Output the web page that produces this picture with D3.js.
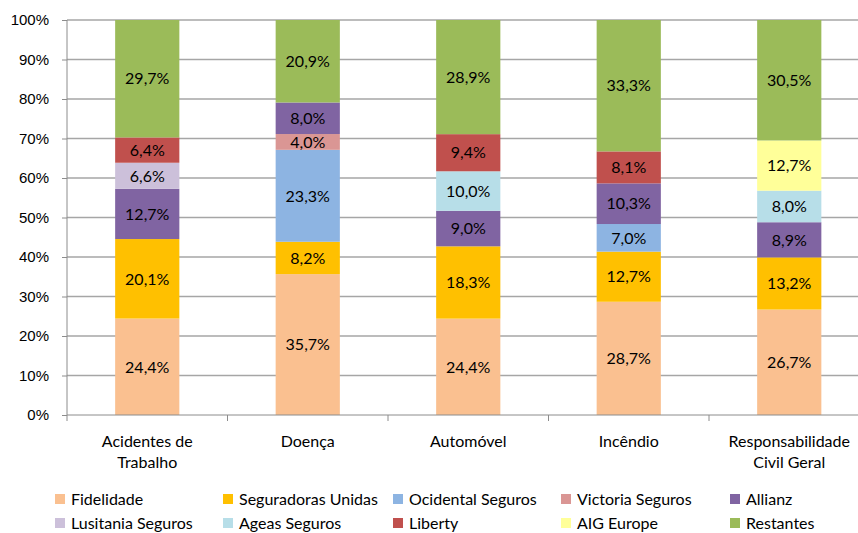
<!DOCTYPE html>
<html lang="pt">
<head>
<meta charset="utf-8">
<title>Quotas de mercado por ramo</title>
<style>
  body { margin: 0; background: #fff; }
  svg { font-family: Lato, "Open Sans", sans-serif; }
  .grid line { stroke: #a6a6a6; stroke-width: 1.3; }
  .axis path, .axis line { stroke: #8c8c8c; }
  .axis text { font-size: 15px; fill: #000; }
  .axis .cat { font-size: 16px; }
  .lbl { font-size: 16px; fill: #000; text-anchor: middle; }
  .legend text { font-size: 16px; fill: #000; }
</style>
<script src="https://d3js.org/d3.v7.min.js"></script>
</head>
<body>
<svg width="858" height="533"></svg>
<script>
// ramos
var categorias = [["Acidentes de", "Trabalho"], ["Doença"], ["Automóvel"], ["Incêndio"], ["Responsabilidade", "Civil Geral"]];
var seguradoras = ["Fidelidade", "Seguradoras Unidas", "Ocidental Seguros", "Victoria Seguros", "Allianz",
                   "Lusitania Seguros", "Ageas Seguros", "Liberty", "AIG Europe", "Restantes"];
var cores = ["#fac090", "#ffc000", "#8db4e2", "#da9694", "#8064a2",
             "#ccc0da", "#b7dee8", "#c0504d", "#ffff99", "#9bbb59"];

// quotas (%) por seguradora, na ordem dos ramos
var fidelidade  = [24.4, 35.7, 24.4, 28.7, 26.7];
var segUnidas   = [20.1, 8.2, 18.3, 12.7, 13.2];
var ocidental   = [0, 23.3, 0, 7.0, 0];
var victoria    = [0, 4.0, 0, 0, 0];
var allianz     = [12.7, 8.0, 9.0, 10.3, 8.9];
var lusitania   = [6.6, 0, 0, 0, 0];
var ageas       = [0, 0, 10.0, 0, 8.0];
var liberty     = [6.4, 0, 9.4, 8.1, 0];
var aig         = [0, 0, 0, 0, 12.7];
var restantes   = [29.7, 20.9, 28.9, 33.3, 30.5];

var series = [fidelidade, segUnidas, ocidental, victoria, allianz, lusitania, ageas, liberty, aig, restantes];
var yTicks = [0, 0.1, 0.2, 0.3, 0.4, 0.5, 0.6, 0.7, 0.8, 0.9, 1];

var tabela = categorias.map(function (c, i) {
  var row = { ramo: c.join(" ") };
  seguradoras.forEach(function (s, j) { row[s] = series[j][i]; });
  return row;
});

var svg = d3.select("svg");
var mLeft = 67, mTop = 20, mBottom = 415, step = 160.5;

var x = d3.scaleBand()
  .domain(tabela.map(function (d) { return d.ramo; }))
  .range([mLeft, mLeft + step * categorias.length])
  .paddingInner(0.6).paddingOuter(0.3);
var xb = d3.scaleBand().domain(x.domain()).range(x.range());

var y = d3.scaleLinear().domain([0, 1]).range([mBottom, mTop]);

var stack = d3.stack().keys(seguradoras).offset(d3.stackOffsetExpand);
var camadas = stack(tabela);

// grelha
svg.append("g").attr("class", "grid")
  .selectAll("line").data(yTicks.slice(1)).enter().append("line")
  .attr("x1", mLeft).attr("x2", 858)
  .attr("y1", function (d) { return y(d); }).attr("y2", function (d) { return y(d); });

// barras
var g = svg.append("g");
camadas.forEach(function (layer, j) {
  g.selectAll(null).data(layer).enter().append("rect")
    .attr("x", function (d) { return x(d.data.ramo); })
    .attr("width", x.bandwidth())
    .attr("y", function (d) { return y(d[1]); })
    .attr("height", function (d) { return y(d[0]) - y(d[1]); })
    .attr("fill", cores[j]);
  g.selectAll(null).data(layer.filter(function (d) { return d.data[layer.key] > 0; })).enter().append("text")
    .attr("class", "lbl")
    .attr("x", function (d) { return x(d.data.ramo) + x.bandwidth() / 2; })
    .attr("y", function (d) { return (y(d[0]) + y(d[1])) / 2; })
    .attr("dy", "0.36em")
    .text(function (d) { return d.data[layer.key].toFixed(1).replace(".", ",") + "%"; });
});

// eixo y
var yAxis = svg.append("g").attr("class", "axis")
  .attr("transform", "translate(" + mLeft + ",0)")
  .call(d3.axisLeft(y).tickValues(yTicks).tickSize(5).tickPadding(13)
    .tickFormat(function (d) { return Math.round(d * 100) + "%"; }));
yAxis.select(".domain").attr("d", "M0," + mTop + "V" + mBottom);

// eixo x
var xAxis = svg.append("g").attr("class", "axis")
  .attr("transform", "translate(0," + mBottom + ")");
xAxis.append("line").attr("x1", mLeft).attr("x2", 858).attr("y1", 0).attr("y2", 0);
xAxis.selectAll(".tk").data(d3.range(categorias.length + 1)).enter().append("line")
  .attr("x1", function (i) { return mLeft + i * step; })
  .attr("x2", function (i) { return mLeft + i * step; })
  .attr("y1", 0).attr("y2", 6);
xAxis.selectAll(".cat").data(tabela).enter().append("text")
  .attr("class", "cat")
  .attr("text-anchor", "middle")
  .attr("x", function (d) { return xb(d.ramo) + xb.bandwidth() / 2; })
  .attr("y", 32)
  .each(function (d, i) {
    var t = d3.select(this);
    categorias[i].forEach(function (linha, k) {
      t.append("tspan").attr("x", xb(d.ramo) + xb.bandwidth() / 2).attr("dy", k ? 21 : 0).text(linha);
    });
  });

// legenda
var colX = [55, 223, 393, 561, 730];
var leg = svg.append("g").attr("class", "legend");
seguradoras.forEach(function (s, i) {
  var cx = colX[i % 5], cy = i < 5 ? 499 : 523;
  leg.append("rect").attr("x", cx).attr("y", cy - 5).attr("width", 10).attr("height", 10).attr("fill", cores[i]);
  leg.append("text").attr("x", cx + 16).attr("y", cy).attr("dy", "0.35em").text(s);
});
</script>
</body>
</html>
